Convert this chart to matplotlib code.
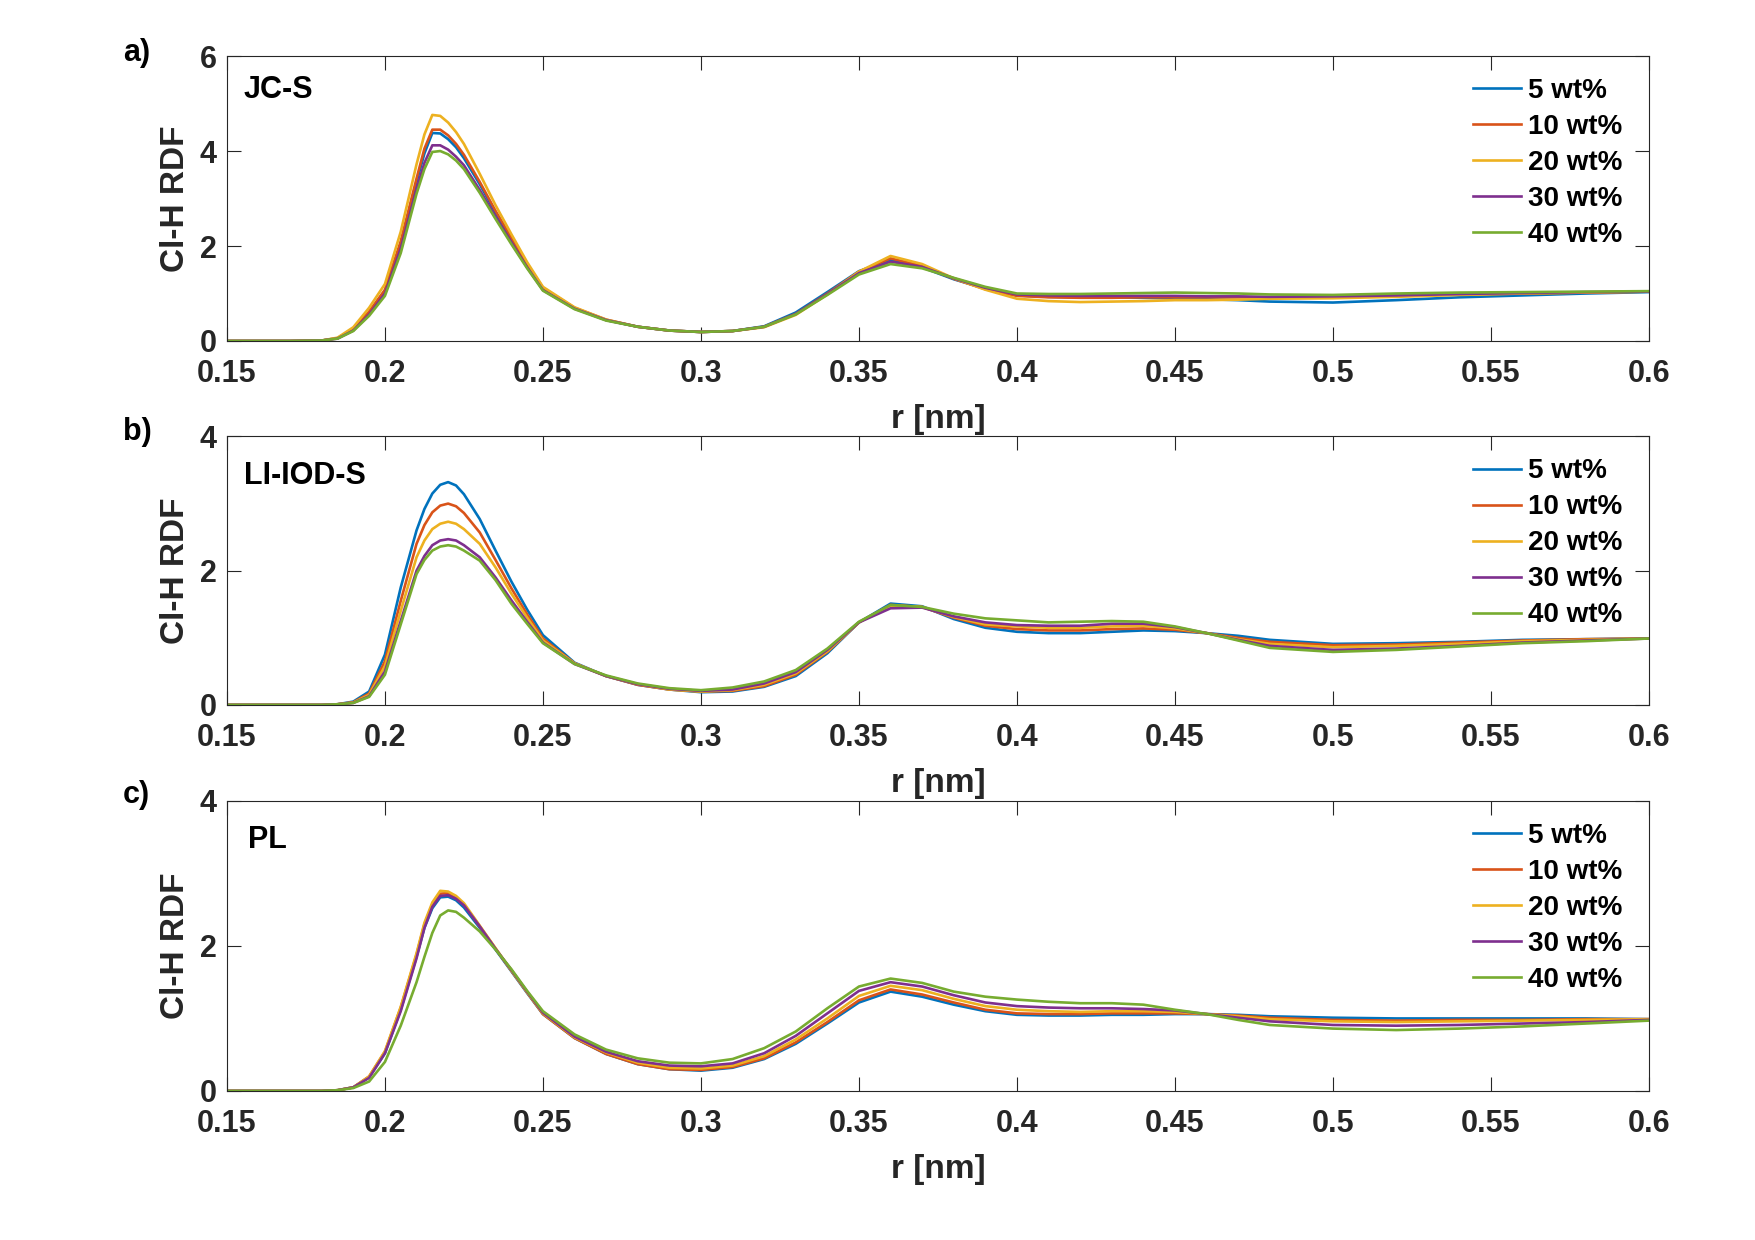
import matplotlib
matplotlib.use('Agg')
import matplotlib.pyplot as plt
from matplotlib.ticker import FormatStrFormatter

plt.rcParams['font.family'] = ['Liberation Sans', 'DejaVu Sans']
plt.rcParams['font.weight'] = 'bold'

# distance grid [nm], shared by all curves
r = [0.15, 0.17, 0.18, 0.185, 0.19, 0.195, 0.2, 0.205, 0.21, 0.2125,
     0.215, 0.2175, 0.22, 0.2225, 0.225, 0.23, 0.235, 0.24, 0.245, 0.25,
     0.26, 0.27, 0.28, 0.29, 0.3, 0.31, 0.32, 0.33, 0.34, 0.35,
     0.36, 0.37, 0.38, 0.39, 0.4, 0.41, 0.42, 0.43, 0.44, 0.45,
     0.46, 0.47, 0.48, 0.5, 0.52, 0.54, 0.56, 0.58, 0.6]

labels = ['5 wt%', '10 wt%', '20 wt%', '30 wt%', '40 wt%']
colors = ['#0072BD', '#D95319', '#EDB120', '#7E2F8E', '#77AC30']

# a) JC-S
jcs_5 = [0, 0, 0.01, 0.06, 0.24, 0.6, 1.05, 2.05, 3.35, 3.95, 4.38, 4.37, 4.25, 4.08, 3.85,
         3.3, 2.7, 2.15, 1.6, 1.1,
         0.69, 0.44, 0.3, 0.22, 0.19, 0.21, 0.31, 0.6, 1.03, 1.47, 1.71, 1.55, 1.3, 1.1,
         0.96, 0.93, 0.92, 0.92, 0.91, 0.9, 0.88, 0.86, 0.83, 0.81, 0.86, 0.92, 0.96, 1.0, 1.03]
jcs_10 = [0, 0, 0.01, 0.06, 0.25, 0.62, 1.08, 2.1, 3.42, 4.05, 4.45, 4.45, 4.33, 4.15, 3.92,
          3.35, 2.74, 2.18, 1.62, 1.12,
          0.7, 0.45, 0.3, 0.22, 0.19, 0.21, 0.3, 0.57, 1.0, 1.46, 1.74, 1.58, 1.31, 1.09,
          0.95, 0.92, 0.91, 0.91, 0.92, 0.92, 0.92, 0.92, 0.92, 0.93, 0.95, 0.98, 1.0, 1.02, 1.04]
jcs_20 = [0, 0, 0.01, 0.07, 0.29, 0.7, 1.2, 2.3, 3.72, 4.35, 4.76, 4.74, 4.6, 4.4, 4.15,
          3.52, 2.86, 2.25, 1.66, 1.14,
          0.71, 0.45, 0.3, 0.22, 0.19, 0.21, 0.29, 0.55, 0.98, 1.46, 1.79, 1.62, 1.32, 1.08,
          0.89, 0.84, 0.82, 0.83, 0.84, 0.86, 0.86, 0.87, 0.89, 0.9, 0.93, 0.97, 1.0, 1.02, 1.04]
jcs_30 = [0, 0, 0.01, 0.05, 0.22, 0.56, 1.0, 1.95, 3.2, 3.75, 4.12, 4.12, 4.03, 3.88, 3.7,
          3.18, 2.62, 2.08, 1.55, 1.07,
          0.68, 0.44, 0.3, 0.22, 0.19, 0.21, 0.3, 0.57, 0.99, 1.43, 1.67, 1.56, 1.32, 1.12,
          0.98, 0.96, 0.95, 0.95, 0.95, 0.95, 0.94, 0.94, 0.93, 0.94, 0.96, 0.99, 1.01, 1.03, 1.04]
jcs_40 = [0, 0, 0.01, 0.05, 0.21, 0.53, 0.95, 1.85, 3.1, 3.62, 3.98, 4.0, 3.93, 3.8, 3.62,
          3.12, 2.57, 2.04, 1.53, 1.06,
          0.67, 0.43, 0.3, 0.22, 0.19, 0.21, 0.3, 0.56, 0.97, 1.4, 1.62, 1.53, 1.33, 1.14,
          1.0, 0.99, 0.99, 1.0, 1.01, 1.02, 1.01, 1.0, 0.98, 0.97, 1.0, 1.02, 1.03, 1.04, 1.05]

# b) LI-IOD-S
liod_5 = [0, 0, 0, 0.01, 0.05, 0.2, 0.75, 1.75, 2.6, 2.92, 3.15, 3.28, 3.32, 3.27, 3.14,
          2.77, 2.3, 1.84, 1.42, 1.04,
          0.63, 0.43, 0.3, 0.23, 0.19, 0.2, 0.27, 0.43, 0.77, 1.23, 1.51, 1.47, 1.28, 1.15,
          1.09, 1.07, 1.07, 1.09, 1.11, 1.1, 1.07, 1.03, 0.97, 0.91, 0.92, 0.94, 0.97, 0.98, 0.99]
liod_10 = [0, 0, 0, 0.01, 0.04, 0.17, 0.65, 1.55, 2.4, 2.68, 2.87, 2.97, 3.0, 2.96, 2.86,
           2.57, 2.16, 1.74, 1.35, 0.99,
           0.62, 0.43, 0.3, 0.23, 0.2, 0.21, 0.28, 0.45, 0.79, 1.23, 1.49, 1.46, 1.3, 1.18,
           1.13, 1.11, 1.11, 1.13, 1.14, 1.12, 1.07, 1.0, 0.94, 0.89, 0.9, 0.93, 0.96, 0.98, 0.99]
liod_20 = [0, 0, 0, 0.01, 0.035, 0.15, 0.58, 1.4, 2.2, 2.45, 2.62, 2.7, 2.73, 2.7, 2.62,
           2.4, 2.05, 1.66, 1.3, 0.96,
           0.62, 0.43, 0.31, 0.23, 0.2, 0.22, 0.3, 0.47, 0.8, 1.23, 1.48, 1.46, 1.31, 1.2,
           1.17, 1.15, 1.15, 1.17, 1.18, 1.14, 1.07, 0.98, 0.91, 0.86, 0.88, 0.91, 0.95, 0.97, 0.99]
liod_30 = [0, 0, 0, 0.01, 0.03, 0.13, 0.5, 1.25, 2.0, 2.22, 2.38, 2.45, 2.47, 2.45, 2.38,
           2.2, 1.9, 1.56, 1.24, 0.93,
           0.61, 0.43, 0.31, 0.24, 0.21, 0.23, 0.32, 0.49, 0.82, 1.23, 1.44, 1.45, 1.32, 1.23,
           1.19, 1.18, 1.18, 1.21, 1.21, 1.16, 1.07, 0.97, 0.88, 0.82, 0.84, 0.88, 0.93, 0.96, 0.99]
liod_40 = [0, 0, 0, 0.01, 0.03, 0.12, 0.45, 1.2, 1.95, 2.16, 2.3, 2.36, 2.38, 2.36, 2.3,
           2.15, 1.86, 1.51, 1.21, 0.92,
           0.61, 0.44, 0.32, 0.25, 0.22, 0.26, 0.35, 0.52, 0.84, 1.24, 1.49, 1.46, 1.36, 1.29,
           1.26, 1.23, 1.24, 1.25, 1.24, 1.17, 1.07, 0.96, 0.85, 0.79, 0.82, 0.87, 0.92, 0.95, 0.99]

# c) PL
pl_5 = [0, 0, 0, 0.01, 0.05, 0.19, 0.52, 1.12, 1.85, 2.25, 2.52, 2.67, 2.68, 2.63, 2.53,
        2.25, 1.95, 1.65, 1.35, 1.06,
        0.73, 0.51, 0.37, 0.3, 0.28, 0.32, 0.44, 0.65, 0.93, 1.22, 1.37, 1.3, 1.19, 1.1,
        1.05, 1.04, 1.04, 1.05, 1.05, 1.06, 1.06, 1.05, 1.03, 1.01, 1.0, 1.0, 1.0, 1.0, 0.99]
pl_10 = [0, 0, 0, 0.01, 0.05, 0.2, 0.54, 1.15, 1.88, 2.3, 2.57, 2.72, 2.73, 2.67, 2.57,
         2.27, 1.96, 1.66, 1.36, 1.06,
         0.73, 0.51, 0.37, 0.3, 0.29, 0.33, 0.45, 0.67, 0.95, 1.25, 1.4, 1.33, 1.22, 1.12,
         1.07, 1.06, 1.06, 1.07, 1.07, 1.07, 1.06, 1.04, 1.01, 0.98, 0.97, 0.98, 0.98, 0.99, 0.99]
pl_20 = [0, 0, 0, 0.01, 0.05, 0.2, 0.55, 1.16, 1.9, 2.32, 2.6, 2.76, 2.75, 2.69, 2.59,
         2.28, 1.97, 1.66, 1.36, 1.07,
         0.74, 0.53, 0.39, 0.32, 0.31, 0.35, 0.48, 0.71, 1.0, 1.31, 1.45, 1.39, 1.27, 1.17,
         1.12, 1.1, 1.09, 1.1, 1.1, 1.09, 1.06, 1.03, 0.99, 0.96, 0.95, 0.96, 0.97, 0.98, 0.99]
pl_30 = [0, 0, 0, 0.01, 0.05, 0.18, 0.52, 1.1, 1.83, 2.25, 2.54, 2.69, 2.7, 2.65, 2.56,
         2.27, 1.96, 1.67, 1.37, 1.08,
         0.75, 0.54, 0.41, 0.35, 0.34, 0.38, 0.52, 0.76, 1.07, 1.38, 1.5, 1.44, 1.32, 1.22,
         1.17, 1.15, 1.14, 1.14, 1.13, 1.11, 1.06, 1.01, 0.96, 0.91, 0.9, 0.91, 0.93, 0.95, 0.98]
pl_40 = [0, 0, 0, 0.01, 0.04, 0.13, 0.4, 0.9, 1.5, 1.85, 2.18, 2.42, 2.49, 2.47, 2.39,
         2.2, 1.95, 1.68, 1.38, 1.1,
         0.78, 0.57, 0.45, 0.39, 0.38, 0.44, 0.59, 0.82, 1.14, 1.44, 1.55, 1.49, 1.37, 1.3,
         1.26, 1.23, 1.21, 1.21, 1.19, 1.12, 1.06, 0.98, 0.91, 0.86, 0.84, 0.86, 0.89, 0.93, 0.97]

panels = [
    ('a)', 'JC-S', [jcs_5, jcs_10, jcs_20, jcs_30, jcs_40], 6, [0, 2, 4, 6]),
    ('b)', 'LI-IOD-S', [liod_5, liod_10, liod_20, liod_30, liod_40], 4, [0, 2, 4]),
    ('c)', 'PL', [pl_5, pl_10, pl_20, pl_30, pl_40], 4, [0, 2, 4]),
]

# axes boxes in figure fractions (left, bottom, width, height)
boxes = [[0.1293, 0.725, 0.8103, 0.2298],
         [0.1293, 0.4315, 0.8103, 0.2165],
         [0.1293, 0.1202, 0.8103, 0.2339]]
letter_y = [0.957, 0.652, 0.359]
name_dx = [12, 12, 15]
name_dy = [-24.5, -28.5, -28.5]

axis_col = '#262626'

fig = plt.figure(figsize=(17.55, 12.4), dpi=100)

for i, (letter, name, series, ymax, yticks) in enumerate(panels):
    ax = fig.add_axes(boxes[i])
    for y, lab, col in zip(series, labels, colors):
        ax.plot(r, y, color=col, lw=1.9, label=lab)

    ax.set_xlim(0.15, 0.6)
    ax.set_ylim(0, ymax)
    ax.set_xticks([0.15, 0.2, 0.25, 0.3, 0.35, 0.4, 0.45, 0.5, 0.55, 0.6])
    ax.set_yticks(yticks)
    ax.xaxis.set_major_formatter(FormatStrFormatter('%g'))

    # MATLAB-like box with inward ticks on all sides
    ax.tick_params(direction='in', length=10, width=0.8, colors=axis_col,
                   labelsize=22, top=True, right=True)
    ax.tick_params(axis='x', pad=13)
    ax.tick_params(axis='y', pad=7.5)
    for sp in ax.spines.values():
        sp.set_color(axis_col)
        sp.set_linewidth(0.8)

    ax.set_xlabel('r [nm]', fontsize=24, fontweight='bold', color=axis_col, labelpad=11)
    ax.set_ylabel('Cl-H RDF', fontsize=24, fontweight='bold', color=axis_col)
    ax.yaxis.set_label_coords(-0.025, 0.5)

    h_px = boxes[i][3] * 1240
    ax.legend(loc='upper left', bbox_to_anchor=(0.876, 1 - 22 / h_px), frameon=False,
              fontsize=20, handlelength=1.75, handletextpad=0.25, labelspacing=0.36,
              borderpad=0, borderaxespad=0)

    ax.annotate(name, xy=(0, 1), xycoords='axes fraction', xytext=(name_dx[i], name_dy[i]),
                textcoords='offset points', fontsize=22, fontweight='bold', va='center')
    fig.text(0.070, letter_y[i], letter, fontsize=22, fontweight='bold', va='center')

fig.savefig('out.png', dpi=100)
